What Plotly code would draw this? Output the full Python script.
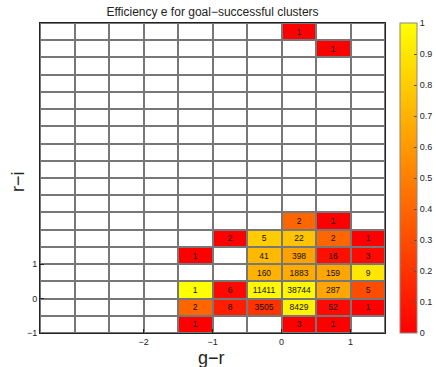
import numpy as np
import plotly.graph_objects as go

# bin centres of the colour-colour grid
g_r = [-3.25, -2.75, -2.25, -1.75, -1.25, -0.75, -0.25, 0.25, 0.75, 1.25]
r_i = [-0.75, -0.25, 0.25, 0.75, 1.25, 1.75, 2.25, 2.75, 3.25, 3.75,
       4.25, 4.75, 5.25, 5.75, 6.25, 6.75, 7.25, 7.75]

# filled cells: g-r centre, r-i centre, efficiency, number of clusters
cell_gr = [-1.25, 0.25, 0.75,
           -1.25, -0.75, -0.25, 0.25, 0.75, 1.25,
           -1.25, -0.75, -0.25, 0.25, 0.75, 1.25,
           -0.25, 0.25, 0.75, 1.25,
           -1.25, -0.25, 0.25, 0.75, 1.25,
           -0.75, -0.25, 0.25, 0.75, 1.25,
           0.25, 0.75,
           0.75,
           0.25]
cell_ri = [-0.75, -0.75, -0.75,
           -0.25, -0.25, -0.25, -0.25, -0.25, -0.25,
           0.25, 0.25, 0.25, 0.25, 0.25, 0.25,
           0.75, 0.75, 0.75, 0.75,
           1.25, 1.25, 1.25, 1.25, 1.25,
           1.75, 1.75, 1.75, 1.75, 1.75,
           2.25, 2.25,
           7.25,
           7.75]
eff = [0, 0, 0,
       0.4, 0.12, 0.2, 0.95, 0.04, 0,
       1.0, 0.03, 0.97, 0.97, 0.65, 0.3,
       0.7, 0.67, 0.65, 0.9,
       0, 0.73, 0.63, 0.06, 0.04,
       0, 0.8, 0.77, 0.4, 0,
       0.4, 0,
       0,
       0]
counts = [1, 3, 1,
          2, 8, 3505, 8429, 52, 1,
          1, 6, 11411, 38744, 287, 5,
          160, 1883, 159, 9,
          1, 41, 398, 16, 3,
          2, 5, 22, 2, 1,
          2, 1,
          1,
          1]

z = np.full((len(r_i), len(g_r)), np.nan)
txt = np.full((len(r_i), len(g_r)), "", dtype=object)
for gx, ry, e, n in zip(cell_gr, cell_ri, eff, counts):
    i = r_i.index(ry)
    j = g_r.index(gx)
    z[i, j] = e
    txt[i, j] = str(n)

FONT = "Liberation Sans"
GAP = 2

fig = go.Figure()

# white empty cells, gaps show the grey grid
fig.add_heatmap(x=g_r, y=r_i, z=np.zeros_like(z),
                colorscale=[[0, "white"], [1, "white"]],
                showscale=False, xgap=GAP, ygap=GAP, hoverinfo="skip")

fig.add_heatmap(x=g_r, y=r_i, z=z, text=txt, texttemplate="%{text}",
                textfont=dict(family=FONT, size=8.5, color="#111"),
                colorscale=[[0, "rgb(255,0,0)"], [1, "rgb(255,255,0)"]],
                zmin=0, zmax=1, xgap=GAP, ygap=GAP,
                colorbar=dict(x=1.043, xanchor="left", xpad=0,
                              y=0.5, len=1, ypad=0,
                              thickness=17, outlinecolor="#888",
                              outlinewidth=1,
                              tickvals=[0, 0.1, 0.2, 0.3, 0.4, 0.5,
                                        0.6, 0.7, 0.8, 0.9, 1],
                              ticktext=["0", "0.1", "0.2", "0.3", "0.4", "0.5",
                                        "0.6", "0.7", "0.8", "0.9", "1"],
                              ticks="inside", ticklen=3, tickcolor="#555",
                              tickfont=dict(family=FONT, size=9, color="#222")))

fig.update_layout(
    width=436, height=367,
    margin=dict(l=40, r=51, t=23, b=34, autoexpand=False),
    paper_bgcolor="white", plot_bgcolor="#777777",
    font=dict(family=FONT, color="#222"),
    title=dict(text="Efficiency e for goal\u2212successful clusters",
               x=(40 + 345 / 2) / 436, xanchor="center",
               y=1 - 12 / 367, yanchor="middle",
               font=dict(family=FONT, size=12, color="#222")),
    showlegend=False,
)

# axis titles as annotations so they sit where the reference has them
fig.add_annotation(text="g\u2212r", xref="paper", yref="paper",
                   x=0.496, y=-0.08, xanchor="center", yanchor="middle",
                   showarrow=False, borderpad=0,
                   font=dict(family=FONT, size=18, color="#222"))
fig.add_annotation(text="r\u2212i", xref="paper", yref="paper",
                   x=-0.064, y=0.49, xanchor="center", yanchor="middle",
                   textangle=-90, showarrow=False,
                   font=dict(family=FONT, size=18, color="#222"))

fig.update_xaxes(range=[-3.5, 1.5], tickvals=[-2, -1, 0, 1],
                 ticktext=["\u22122", "\u22121", "0", "1"],
                 ticks="inside", ticklen=4, tickcolor="#222",
                 showline=True, linecolor="#222", linewidth=1, mirror=True,
                 showgrid=False, zeroline=False, automargin=False,
                 tickfont=dict(family=FONT, size=9, color="#222"))

fig.update_yaxes(range=[-1, 8], tickvals=[-1, 0, 1],
                 ticktext=["\u22121", "0", "1"],
                 ticks="inside", ticklen=4, tickcolor="#222",
                 showline=True, linecolor="#222", linewidth=1, mirror=True,
                 showgrid=False, zeroline=False, automargin=False,
                 tickfont=dict(family=FONT, size=9, color="#222"))

# page body has a default margin that would shift the figure
fig.write_html("out.html", config={"displayModeBar": False},
               post_script="document.body.style.margin='0';")
